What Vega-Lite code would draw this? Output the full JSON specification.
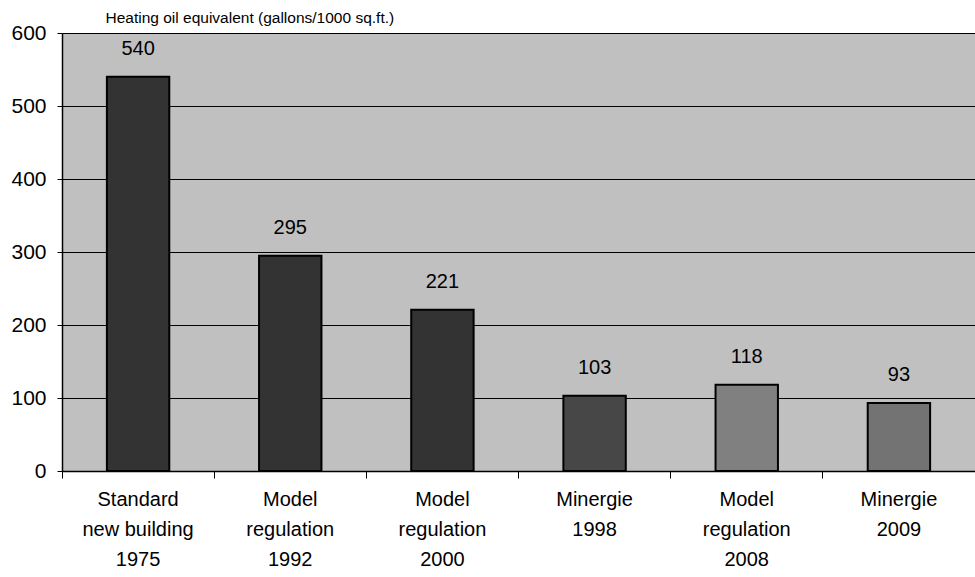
{
  "$schema": "https://vega.github.io/schema/vega-lite/v6.json",
  "width": 913,
  "height": 438,
  "autosize": {"type": "none"},
  "padding": {"left": 62, "top": 33, "right": 0, "bottom": 106},
  "background": "white",
  "config": {
    "view": {"fill": "#c0c0c0", "stroke": null},
    "font": "Liberation Sans"
  },
  "data": {
    "values": [
      {"category": "Standard\nnew building\n1975", "value": 540},
      {"category": "Model\nregulation\n1992", "value": 295},
      {"category": "Model\nregulation\n2000", "value": 221},
      {"category": "Minergie\n1998", "value": 103},
      {"category": "Model\nregulation\n2008", "value": 118},
      {"category": "Minergie\n2009", "value": 93}
    ]
  },
  "encoding": {
    "x": {
      "field": "category",
      "type": "nominal",
      "sort": null,
      "scale": {"paddingInner": 0, "paddingOuter": 0},
      "axis": {
        "title": null,
        "labelAngle": 0,
        "labelExpr": "split(datum.label, '\\n')",
        "labelFont": "Liberation Sans",
        "labelFontSize": 20,
        "labelColor": "black",
        "labelLineHeight": 30,
        "labelBaseline": "top",
        "labelPadding": 11,
        "bandPosition": 0,
        "ticks": true,
        "tickSize": 7,
        "tickColor": "black",
        "domainColor": "black",
        "domainWidth": 1.5,
        "grid": false
      }
    },
    "y": {
      "field": "value",
      "type": "quantitative",
      "scale": {"domain": [0, 600], "nice": false},
      "axis": {
        "values": [0, 100, 200, 300, 400, 500, 600],
        "title": "Heating oil equivalent (gallons/1000 sq.ft.)",
        "titleAngle": 0,
        "titleAlign": "left",
        "titleBaseline": "alphabetic",
        "titleX": 43,
        "titleY": -11,
        "titleFont": "Liberation Sans",
        "titleFontSize": 15.5,
        "titleFontWeight": "normal",
        "titleColor": "black",
        "labelFont": "Liberation Sans",
        "labelFontSize": 21,
        "labelColor": "black",
        "labelPadding": 11,
        "tickSize": 5,
        "tickColor": "black",
        "domainColor": "black",
        "domainWidth": 1.5,
        "grid": true,
        "gridColor": "black",
        "gridWidth": 1,
        "gridOpacity": 1
      }
    }
  },
  "layer": [
    {
      "mark": {"type": "bar", "width": {"band": 0.41}, "stroke": "black", "strokeWidth": 2, "opacity": 1},
      "encoding": {
        "color": {
          "field": "category",
          "type": "nominal",
          "legend": null,
          "scale": {
            "domain": ["Standard\nnew building\n1975", "Model\nregulation\n1992", "Model\nregulation\n2000", "Minergie\n1998", "Model\nregulation\n2008", "Minergie\n2009"],
            "range": ["#333333", "#333333", "#333333", "#474747", "#808080", "#737373"]
          }
        }
      }
    },
    {
      "mark": {"type": "text", "baseline": "middle", "dy": -28, "fontSize": 20, "font": "Liberation Sans", "color": "black"},
      "encoding": {"text": {"field": "value", "type": "quantitative"}}
    }
  ]
}
